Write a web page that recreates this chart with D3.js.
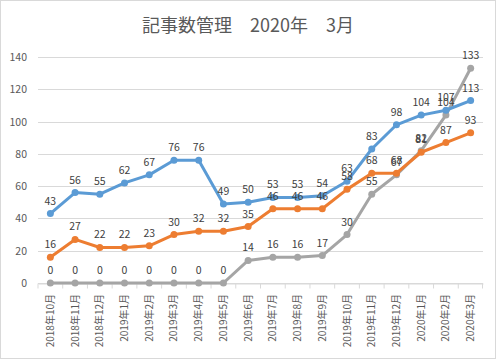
<!DOCTYPE html>
<html>
<head>
<meta charset="utf-8">
<script src="https://cdn.jsdelivr.net/npm/d3@7"></script>
<style>
  body { margin: 0; background: #fff; }
  text { font-family: "Noto Sans CJK JP", "Noto Sans", sans-serif; }
</style>
</head>
<body>
<div id="chart"></div>
<script>
var months = ["2018年10月","2018年11月","2018年12月","2019年1月","2019年2月","2019年3月","2019年4月","2019年5月","2019年6月","2019年7月","2019年8月","2019年9月","2019年10月","2019年11月","2019年12月","2020年1月","2020年2月","2020年3月"];
var blueVals = [43,56,55,62,67,76,76,49,50,53,53,54,63,83,98,104,107,113];
var orangeVals = [16,27,22,22,23,30,32,32,35,46,46,46,58,68,68,81,87,93];
var grayVals = [0,0,0,0,0,0,0,0,14,16,16,17,30,55,67,82,104,133];
var yTicks = [0,20,40,60,80,100,120,140];

var width = 497, height = 360;
var svg = d3.select("#chart").append("svg")
    .attr("width", width)
    .attr("height", height);

svg.append("rect")
    .attr("x", 0.5).attr("y", 0.5)
    .attr("width", width - 2).attr("height", height - 2)
    .attr("fill", "#fff").attr("stroke", "#d9d9d9");

svg.append("text")
    .attr("x", 248).attr("y", 32)
    .attr("text-anchor", "middle")
    .attr("font-size", 18)
    .attr("fill", "#595959")
    .text("記事数管理　2020年　3月");

var x = d3.scaleBand().domain(months).range([38, 483]);
var y = d3.scaleLinear().domain([0, 140]).range([283, 57]);

// gridlines
svg.append("g").selectAll("line")
  .data(yTicks)
  .enter().append("line")
    .attr("x1", 38).attr("x2", 483)
    .attr("y1", function(d) { return Math.round(y(d)) + 0.5; })
    .attr("y2", function(d) { return Math.round(y(d)) + 0.5; })
    .attr("stroke", "#d9d9d9");

// y labels
svg.append("g").selectAll("text")
  .data(yTicks)
  .enter().append("text")
    .attr("x", 27)
    .attr("y", function(d) { return y(d) + 4; })
    .attr("text-anchor", "end")
    .attr("font-size", 10.5)
    .attr("fill", "#595959")
    .text(function(d) { return d; });

// x axis
var xAxis = svg.append("g")
    .attr("transform", "translate(0,283.5)")
    .call(d3.axisBottom(x).tickSize(5).tickSizeOuter(0).tickFormat(""));
xAxis.select(".domain").attr("stroke", "#d9d9d9");
xAxis.selectAll(".tick line")
    .attr("stroke", "#d9d9d9")
    .attr("transform", "translate(" + (-x.bandwidth() / 2) + ",0)");
xAxis.append("line")
    .attr("x1", 482.5).attr("x2", 482.5).attr("y1", 0).attr("y2", 5)
    .attr("stroke", "#d9d9d9");

svg.append("g").selectAll("text")
  .data(months)
  .enter().append("text")
    .attr("transform", function(d) {
      return "translate(" + (x(d) + x.bandwidth() / 2 + 3.5) + ",294) rotate(-90)";
    })
    .attr("text-anchor", "end")
    .attr("font-size", 10)
    .attr("fill", "#595959")
    .text(function(d) { return d; });

var series = [
  { vals: blueVals, color: "#5b9bd5" },
  { vals: orangeVals, color: "#ed7d31" },
  { vals: grayVals, color: "#a5a5a5" }
];

var line = d3.line()
    .x(function(d, i) { return x(months[i]) + x.bandwidth() / 2; })
    .y(function(d) { return y(d); });

// draw in reverse so blue sits on top
series.slice().reverse().forEach(function(s) {
  var g = svg.append("g");
  g.append("path")
      .datum(s.vals)
      .attr("d", line)
      .attr("fill", "none")
      .attr("stroke", s.color)
      .attr("stroke-width", 3)
      .attr("stroke-linejoin", "round");
  g.selectAll("circle")
    .data(s.vals)
    .enter().append("circle")
      .attr("cx", function(d, i) { return x(months[i]) + x.bandwidth() / 2; })
      .attr("cy", function(d) { return y(d); })
      .attr("r", 3.5)
      .attr("fill", s.color);
});

series.forEach(function(s) {
  svg.append("g").selectAll("text")
    .data(s.vals)
    .enter().append("text")
      .attr("x", function(d, i) { return x(months[i]) + x.bandwidth() / 2; })
      .attr("y", function(d) { return y(d) - 9; })
      .attr("text-anchor", "middle")
      .attr("font-size", 10.5)
      .attr("fill", "#404040")
      .text(function(d) { return d; });
});
</script>
</body>
</html>
